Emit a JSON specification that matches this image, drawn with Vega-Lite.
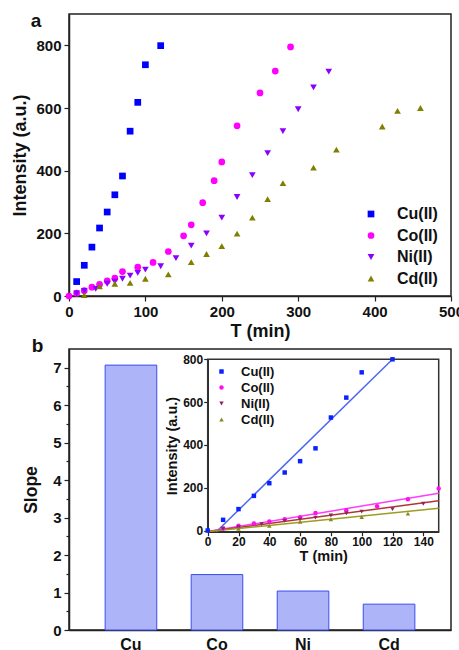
{
  "$schema": "https://vega.github.io/schema/vega-lite/v6.json",
  "padding": {"left": 11, "top": 11, "right": 0, "bottom": 0},
  "config": {
    "font": "Liberation Sans",
    "view": {"stroke": "#222", "strokeWidth": 1.5},
    "axis": {"labelFont": "Liberation Sans", "labelFontWeight": "bold", "labelColor": "#111", "titleFont": "Liberation Sans", "titleFontWeight": "bold", "titleColor": "#111", "domainColor": "#222", "domainWidth": 1.5, "tickColor": "#222", "tickWidth": 1.2, "grid": false, "labelFlush": false, "labelOverlap": false},
    "legend": {"labelFont": "Liberation Sans", "labelFontWeight": "bold", "labelColor": "#111"}
  },
  "bounds": "flush",
  "spacing": 53,
  "resolve": {"scale": {"color": "independent", "shape": "independent"}, "legend": {"color": "independent", "shape": "independent"}},
  "datasets": {
    "kinetics": [
      {"metal": "Cu(II)", "T": 10, "I": 46}, {"metal": "Cu(II)", "T": 20, "I": 98}, {"metal": "Cu(II)", "T": 30, "I": 156}, {"metal": "Cu(II)", "T": 40, "I": 217}, {"metal": "Cu(II)", "T": 50, "I": 268}, {"metal": "Cu(II)", "T": 60, "I": 323}, {"metal": "Cu(II)", "T": 70, "I": 383}, {"metal": "Cu(II)", "T": 80, "I": 526}, {"metal": "Cu(II)", "T": 90, "I": 618}, {"metal": "Cu(II)", "T": 100, "I": 738}, {"metal": "Cu(II)", "T": 120, "I": 799},
      {"metal": "Co(II)", "T": 0, "I": 0}, {"metal": "Co(II)", "T": 10, "I": 9}, {"metal": "Co(II)", "T": 20, "I": 17}, {"metal": "Co(II)", "T": 30, "I": 28}, {"metal": "Co(II)", "T": 40, "I": 37}, {"metal": "Co(II)", "T": 50, "I": 48}, {"metal": "Co(II)", "T": 60, "I": 57}, {"metal": "Co(II)", "T": 70, "I": 78}, {"metal": "Co(II)", "T": 90, "I": 92}, {"metal": "Co(II)", "T": 110, "I": 107}, {"metal": "Co(II)", "T": 130, "I": 142}, {"metal": "Co(II)", "T": 150, "I": 192}, {"metal": "Co(II)", "T": 160, "I": 227}, {"metal": "Co(II)", "T": 175, "I": 298}, {"metal": "Co(II)", "T": 190, "I": 368}, {"metal": "Co(II)", "T": 200, "I": 428}, {"metal": "Co(II)", "T": 220, "I": 543}, {"metal": "Co(II)", "T": 250, "I": 648}, {"metal": "Co(II)", "T": 270, "I": 718}, {"metal": "Co(II)", "T": 290, "I": 795},
      {"metal": "Ni(II)", "T": 10, "I": 8}, {"metal": "Ni(II)", "T": 20, "I": 16}, {"metal": "Ni(II)", "T": 35, "I": 23}, {"metal": "Ni(II)", "T": 50, "I": 39}, {"metal": "Ni(II)", "T": 60, "I": 46}, {"metal": "Ni(II)", "T": 70, "I": 55}, {"metal": "Ni(II)", "T": 80, "I": 65}, {"metal": "Ni(II)", "T": 90, "I": 74}, {"metal": "Ni(II)", "T": 100, "I": 84}, {"metal": "Ni(II)", "T": 120, "I": 95}, {"metal": "Ni(II)", "T": 140, "I": 121}, {"metal": "Ni(II)", "T": 160, "I": 161}, {"metal": "Ni(II)", "T": 180, "I": 200}, {"metal": "Ni(II)", "T": 200, "I": 250}, {"metal": "Ni(II)", "T": 220, "I": 316}, {"metal": "Ni(II)", "T": 240, "I": 386}, {"metal": "Ni(II)", "T": 260, "I": 456}, {"metal": "Ni(II)", "T": 280, "I": 526}, {"metal": "Ni(II)", "T": 300, "I": 596}, {"metal": "Ni(II)", "T": 320, "I": 666}, {"metal": "Ni(II)", "T": 340, "I": 716},
      {"metal": "Cd(II)", "T": 20, "I": 3}, {"metal": "Cd(II)", "T": 40, "I": 31}, {"metal": "Cd(II)", "T": 60, "I": 39}, {"metal": "Cd(II)", "T": 80, "I": 42}, {"metal": "Cd(II)", "T": 100, "I": 55}, {"metal": "Cd(II)", "T": 130, "I": 69}, {"metal": "Cd(II)", "T": 160, "I": 108}, {"metal": "Cd(II)", "T": 180, "I": 134}, {"metal": "Cd(II)", "T": 200, "I": 159}, {"metal": "Cd(II)", "T": 220, "I": 199}, {"metal": "Cd(II)", "T": 240, "I": 250}, {"metal": "Cd(II)", "T": 260, "I": 309}, {"metal": "Cd(II)", "T": 280, "I": 360}, {"metal": "Cd(II)", "T": 320, "I": 410}, {"metal": "Cd(II)", "T": 350, "I": 467}, {"metal": "Cd(II)", "T": 410, "I": 541}, {"metal": "Cd(II)", "T": 430, "I": 591}, {"metal": "Cd(II)", "T": 460, "I": 600}
    ],
    "inset": [
      {"metal": "Cu(II)", "T": 0, "I": 0}, {"metal": "Cu(II)", "T": 10, "I": 50}, {"metal": "Cu(II)", "T": 20, "I": 100}, {"metal": "Cu(II)", "T": 30, "I": 162}, {"metal": "Cu(II)", "T": 40, "I": 221}, {"metal": "Cu(II)", "T": 50, "I": 271}, {"metal": "Cu(II)", "T": 60, "I": 324}, {"metal": "Cu(II)", "T": 70, "I": 384}, {"metal": "Cu(II)", "T": 80, "I": 528}, {"metal": "Cu(II)", "T": 90, "I": 621}, {"metal": "Cu(II)", "T": 100, "I": 739}, {"metal": "Cu(II)", "T": 120, "I": 800},
      {"metal": "Co(II)", "T": 10, "I": 10}, {"metal": "Co(II)", "T": 20, "I": 22}, {"metal": "Co(II)", "T": 30, "I": 33}, {"metal": "Co(II)", "T": 40, "I": 42}, {"metal": "Co(II)", "T": 50, "I": 53}, {"metal": "Co(II)", "T": 60, "I": 62}, {"metal": "Co(II)", "T": 70, "I": 82}, {"metal": "Co(II)", "T": 90, "I": 95}, {"metal": "Co(II)", "T": 110, "I": 113}, {"metal": "Co(II)", "T": 130, "I": 146}, {"metal": "Co(II)", "T": 150, "I": 196},
      {"metal": "Ni(II)", "T": 10, "I": 8}, {"metal": "Ni(II)", "T": 20, "I": 15}, {"metal": "Ni(II)", "T": 35, "I": 30}, {"metal": "Ni(II)", "T": 50, "I": 45}, {"metal": "Ni(II)", "T": 60, "I": 52}, {"metal": "Ni(II)", "T": 70, "I": 60}, {"metal": "Ni(II)", "T": 80, "I": 70}, {"metal": "Ni(II)", "T": 90, "I": 80}, {"metal": "Ni(II)", "T": 100, "I": 88}, {"metal": "Ni(II)", "T": 120, "I": 100}, {"metal": "Ni(II)", "T": 140, "I": 125},
      {"metal": "Cd(II)", "T": 20, "I": 8}, {"metal": "Cd(II)", "T": 40, "I": 22}, {"metal": "Cd(II)", "T": 60, "I": 41}, {"metal": "Cd(II)", "T": 80, "I": 52}, {"metal": "Cd(II)", "T": 100, "I": 63}, {"metal": "Cd(II)", "T": 130, "I": 79}
    ],
    "fits": [
      {"metal": "Cu(II)", "T": 5.6, "I": -6}, {"metal": "Cu(II)", "T": 120, "I": 800},
      {"metal": "Co(II)", "T": 0, "I": -5}, {"metal": "Co(II)", "T": 150, "I": 174},
      {"metal": "Ni(II)", "T": 0, "I": -5}, {"metal": "Ni(II)", "T": 150, "I": 139},
      {"metal": "Cd(II)", "T": 0, "I": -5}, {"metal": "Cd(II)", "T": 150, "I": 104}
    ],
    "slopes": [
      {"ion": "Cu", "slope": 7.07}, {"ion": "Co", "slope": 1.48}, {"ion": "Ni", "slope": 1.04}, {"ion": "Cd", "slope": 0.69}
    ],
    "panels": [
      {"panel": "a", "px": -43, "py": 858},
      {"panel": "b", "px": -110.5, "py": 834}
    ]
  },
  "vconcat": [
    {
      "width": 382,
      "height": 282,
      "layer": [
        {
          "data": {"name": "kinetics"},
          "mark": {"type": "point", "filled": true, "size": 45, "opacity": 1},
          "encoding": {
            "x": {"field": "T", "type": "quantitative", "title": "T (min)",
              "scale": {"domain": [0, 500], "nice": false},
              "axis": {"values": [0, 50, 100, 150, 200, 250, 300, 350, 400, 450, 500], "labelExpr": "datum.value % 100 === 0 ? datum.label : ''", "tickSize": {"condition": {"test": "datum.value % 100 === 0", "value": 5}, "value": 3}, "labelFontSize": 15, "titleFontSize": 18, "labelPadding": 3, "titlePadding": 3}},
            "y": {"field": "I", "type": "quantitative", "title": "Intensity (a.u.)",
              "scale": {"domain": [0, 900], "nice": false},
              "axis": {"values": [0, 100, 200, 300, 400, 500, 600, 700, 800], "labelExpr": "datum.value % 200 === 0 ? datum.label : ''", "tickSize": {"condition": {"test": "datum.value % 200 === 0", "value": 5}, "value": 3}, "labelFontSize": 15, "titleFontSize": 18, "labelPadding": 3, "titlePadding": 6}},
            "color": {"field": "metal", "type": "nominal",
              "scale": {"domain": ["Cu(II)", "Co(II)", "Ni(II)", "Cd(II)"], "range": ["#0000ff", "#ff00ff", "#8a00ff", "#808000"]},
              "legend": {"orient": "none", "legendX": 294, "legendY": 192, "title": null, "labelFontSize": 16, "symbolSize": 45, "rowPadding": 5.5, "labelOffset": 18, "symbolStrokeWidth": 0}},
            "shape": {"field": "metal", "type": "nominal",
              "scale": {"domain": ["Cu(II)", "Co(II)", "Ni(II)", "Cd(II)"], "range": ["square", "circle", "triangle-down", "triangle-up"]}}
          }
        },
        {
          "data": {"name": "panels"},
          "transform": [{"filter": "datum.panel === 'a'"}],
          "mark": {"type": "text", "clip": false, "font": "Liberation Sans", "fontWeight": "bold", "fontSize": 19, "align": "center", "baseline": "alphabetic", "fill": "#111"},
          "encoding": {
            "x": {"field": "px", "type": "quantitative"},
            "y": {"field": "py", "type": "quantitative"},
            "text": {"field": "panel", "type": "nominal"}
          }
        }
      ]
    },
    {
      "width": 382,
      "height": 281,
      "layer": [
        {
          "data": {"name": "slopes"},
          "mark": {"type": "bar", "fill": "#adb4f7", "stroke": "#3b4cf2", "strokeWidth": 1},
          "encoding": {
            "x": {"field": "ion", "type": "nominal", "sort": null, "title": null,
              "scale": {"paddingInner": 0.4, "paddingOuter": 0.42},
              "axis": {"ticks": false, "labelAngle": 0, "labelFontSize": 16, "labelPadding": 6}},
            "y": {"field": "slope", "type": "quantitative", "title": "Slope",
              "scale": {"domain": [0, 7.5], "nice": false},
              "axis": {"values": [0, 0.5, 1, 1.5, 2, 2.5, 3, 3.5, 4, 4.5, 5, 5.5, 6, 6.5, 7], "labelExpr": "datum.value % 1 === 0 ? format(datum.value, 'd') : ''", "tickSize": {"condition": {"test": "datum.value % 1 === 0", "value": 5}, "value": 3}, "labelFontSize": 15, "titleFontSize": 17.5, "labelPadding": 3, "titlePadding": 12}}
          }
        },
        {
          "layer": [
            {
              "data": {"values": [{}]},
              "mark": {"type": "rect", "fill": null, "stroke": "#333", "strokeWidth": 1.5},
              "encoding": {
                "x": {"datum": 0, "type": "quantitative", "title": "T (min)",
                  "scale": {"domain": [0, 150], "range": [138.7, 369.7], "nice": false, "zero": false},
                  "axis": {"orient": "bottom", "offset": -98.3, "values": [0, 10, 20, 30, 40, 50, 60, 70, 80, 90, 100, 110, 120, 130, 140, 150], "labelExpr": "datum.value % 20 === 0 && datum.value < 150 ? datum.label : ''", "tickSize": {"condition": {"test": "datum.value % 20 === 0", "value": 4}, "value": 2.5}, "labelFontSize": 12, "titleFontSize": 14.5, "labelPadding": 1, "titlePadding": 2}},
                "x2": {"datum": 150},
                "y": {"datum": -6, "type": "quantitative", "title": "Intensity (a.u.)",
                  "scale": {"domain": [-6, 800], "range": [182.8, 10.3], "nice": false, "zero": false},
                  "axis": {"orient": "left", "offset": -138.7, "values": [0, 100, 200, 300, 400, 500, 600, 700, 800], "labelExpr": "datum.value % 200 === 0 ? datum.label : ''", "tickSize": {"condition": {"test": "datum.value % 200 === 0", "value": 4}, "value": 2.5}, "labelFontSize": 12, "titleFontSize": 14.5, "labelPadding": 1, "titlePadding": 3}},
                "y2": {"datum": 800}
              }
            },
            {
              "data": {"name": "fits"},
              "mark": {"type": "line", "strokeWidth": 1.5},
              "encoding": {
                "x": {"field": "T", "type": "quantitative", "title": "T (min)"},
                "y": {"field": "I", "type": "quantitative", "title": "Intensity (a.u.)"},
                "stroke": {"field": "metal", "type": "nominal", "legend": null,
                  "scale": {"domain": ["Cu(II)", "Co(II)", "Ni(II)", "Cd(II)"], "range": ["#4d68ee", "#ff3cff", "#b03636", "#9c9c22"]}}
              }
            },
            {
              "data": {"name": "inset"},
              "mark": {"type": "point", "filled": true, "size": 20, "opacity": 1},
              "encoding": {
                "x": {"field": "T", "type": "quantitative", "title": "T (min)"},
                "y": {"field": "I", "type": "quantitative", "title": "Intensity (a.u.)"},
                "color": {"field": "metal", "type": "nominal",
                  "scale": {"domain": ["Cu(II)", "Co(II)", "Ni(II)", "Cd(II)"], "range": ["#0a22ff", "#ff10f0", "#8c2466", "#88881a"]},
                  "legend": {"orient": "none", "legendX": 146, "legendY": 16, "title": null, "labelFontSize": 13, "symbolSize": 20, "rowPadding": 2, "labelOffset": 13, "symbolStrokeWidth": 0}},
                "shape": {"field": "metal", "type": "nominal",
                  "scale": {"domain": ["Cu(II)", "Co(II)", "Ni(II)", "Cd(II)"], "range": ["square", "circle", "triangle-down", "triangle-up"]}}
              }
            },
            {
              "data": {"name": "panels"},
              "transform": [{"filter": "datum.panel === 'b'"}],
              "mark": {"type": "text", "clip": false, "font": "Liberation Sans", "fontWeight": "bold", "fontSize": 19, "align": "center", "baseline": "alphabetic", "fill": "#111"},
              "encoding": {
                "x": {"field": "px", "type": "quantitative", "title": "T (min)"},
                "y": {"field": "py", "type": "quantitative", "title": "Intensity (a.u.)"},
                "text": {"field": "panel", "type": "nominal"}
              }
            }
          ]
        }
      ],
      "resolve": {"scale": {"x": "independent", "y": "independent"}, "axis": {"x": "independent", "y": "independent"}}
    }
  ]
}
